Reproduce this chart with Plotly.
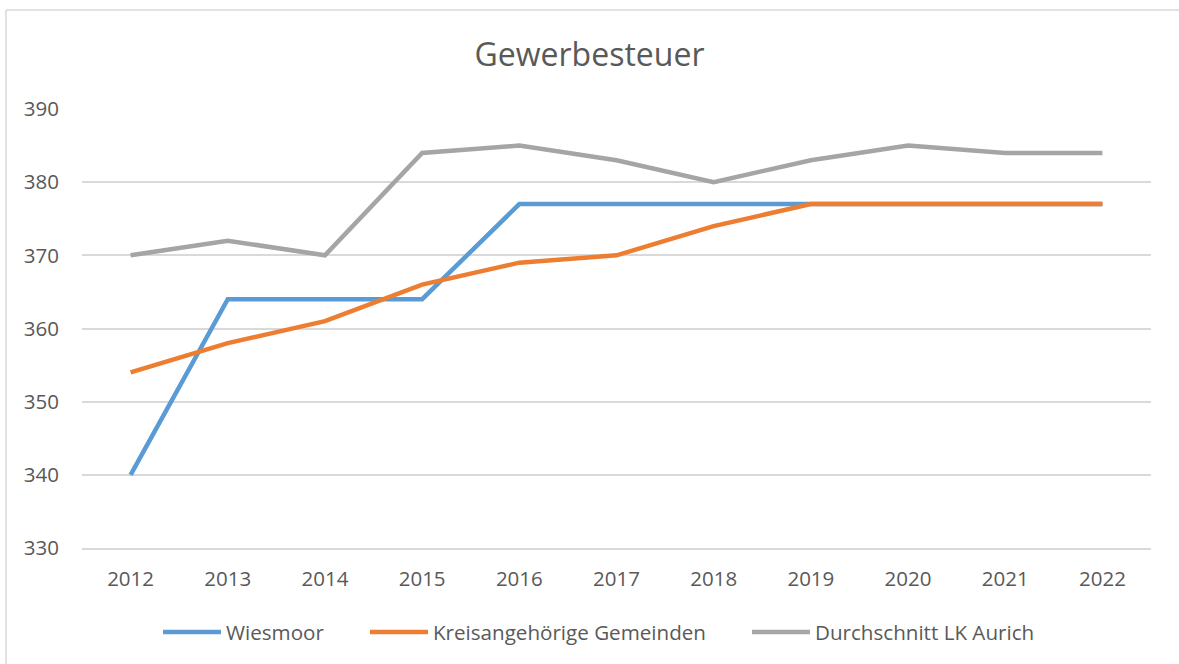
import plotly.graph_objects as go

years = ["2012", "2013", "2014", "2015", "2016", "2017", "2018", "2019", "2020", "2021", "2022"]
wiesmoor = [340, 364, 364, 364, 377, 377, 377, 377, 377, 377, 377]
kreis = [354, 358, 361, 366, 369, 370, 374, 377, 377, 377, 377]
durchschnitt = [370, 372, 370, 384, 385, 383, 380, 383, 385, 384, 384]

names = ["Wiesmoor", "Kreisangehörige Gemeinden", "Durchschnitt LK Aurich"]
colors = ["#5B9BD5", "#ED7D31", "#A5A5A5"]
series = [wiesmoor, kreis, durchschnitt]
legend_ids = ["legend", "legend2", "legend3"]
legend_px = [166, 373, 755]  # left of legend symbol in pixels

W, H = 1179, 664
ml, mr, mt, mb = 82, 28, 109, 116
pw, ph = W - ml - mr, H - mt - mb

fig = go.Figure()
for name, col, vals, lid in zip(names, colors, series, legend_ids):
    fig.add_trace(go.Scatter(x=years, y=vals, mode="lines", name=name, legend=lid,
                             line=dict(color=col, width=4.5)))

font_family = "Open Sans, sans-serif"
leg_y = -(632 - (mt + ph)) / ph
legends = {}
for lid, px in zip(legend_ids, legend_px):
    legends[lid] = dict(orientation="h", x=(px - 8 - ml) / pw, xanchor="left", y=leg_y, yanchor="middle",
                        font=dict(family=font_family, size=20.6, color="#595959"), itemwidth=58,
                        bgcolor="rgba(0,0,0,0)")

fx0 = (6 - ml) / pw
fy1 = 1 + (mt - 10) / ph
fig.update_layout(
    width=W, height=H,
    margin=dict(l=ml, r=mr, t=mt, b=mb, autoexpand=False),
    paper_bgcolor="white", plot_bgcolor="white",
    title=dict(text="Gewerbesteuer", x=0.5, xanchor="center", y=1 - 55 / H, yanchor="middle",
               font=dict(family=font_family, size=32, color="#595959")),
    font=dict(family=font_family, size=20, color="#595959"),
    showlegend=True,
    xaxis=dict(type="category", range=[-0.5, len(years) - 0.5], automargin=False,
               showgrid=False, showline=True, linecolor="#D9D9D9", linewidth=1.5,
               ticks="", tickfont=dict(size=20.5, color="#595959"), ticklabelstandoff=12),
    yaxis=dict(range=[330, 390], dtick=10, automargin=False, showgrid=True, gridcolor="#D9D9D9", gridwidth=1.5,
               zeroline=False, showline=False, ticks="", tickfont=dict(size=20.5, color="#595959"),
               ticklabelstandoff=22),
    shapes=[
        dict(type="line", xref="paper", yref="paper", x0=fx0, x1=fx0, y0=fy1, y1=-0.5,
             line=dict(color="#D9D9D9", width=1.5), layer="below"),
        dict(type="line", xref="paper", yref="paper", x0=fx0, x1=1.2, y0=fy1, y1=fy1,
             line=dict(color="#D9D9D9", width=1.5), layer="below"),
    ],
    **legends,
)

fig.write_html("out.html", config={"displayModeBar": False},
               post_script="document.body.style.margin='0px';")
